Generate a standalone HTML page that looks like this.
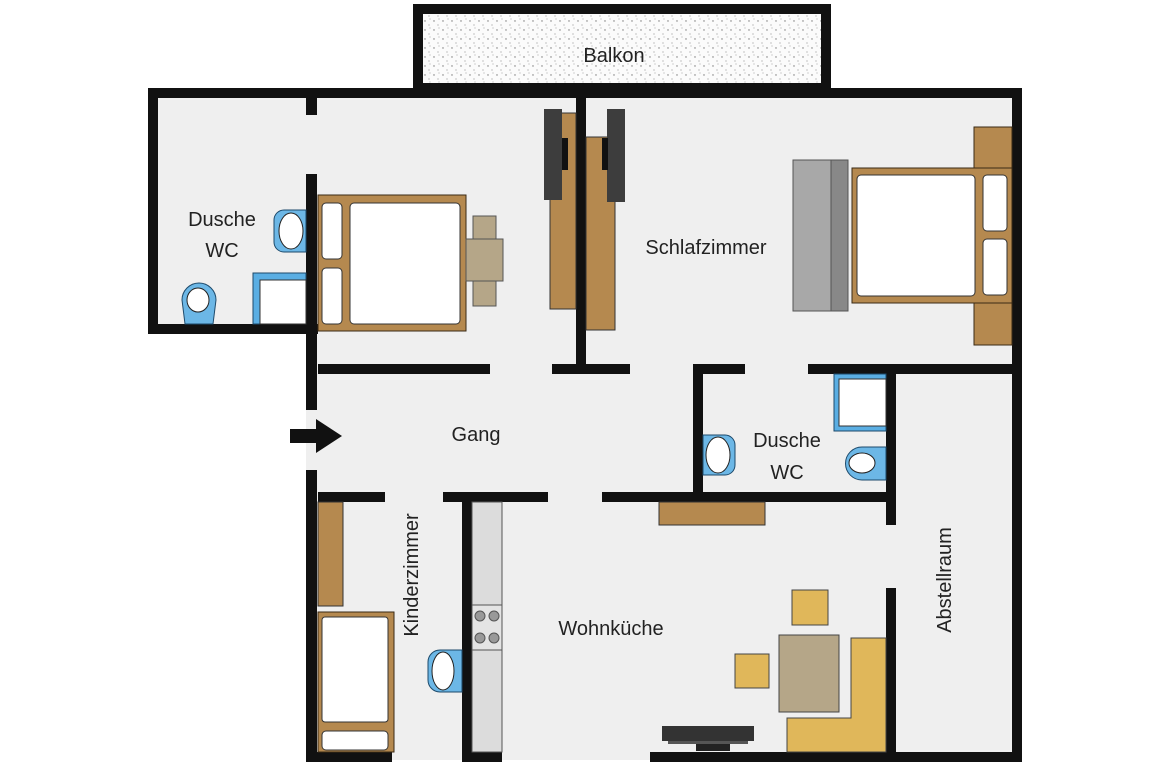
<!DOCTYPE html>
<html><head><meta charset="utf-8"><style>
html,body{margin:0;padding:0;background:#fff;}
svg{display:block;}
text{font-family:"Liberation Sans",sans-serif;font-size:20px;fill:#222;}
</style></head><body>
<svg width="1153" height="768" viewBox="0 0 1153 768" xmlns="http://www.w3.org/2000/svg">
<defs>
<pattern id="dots" width="9" height="9" patternUnits="userSpaceOnUse">
<rect width="9" height="9" fill="#fbfbfb"/>
<circle cx="2" cy="3" r="0.7" fill="#777"/><circle cx="6" cy="7" r="0.6" fill="#999"/><circle cx="7" cy="1" r="0.5" fill="#888"/>
</pattern>
</defs>
<!-- floors -->
<rect x="150" y="90" width="870" height="240" fill="#efefef"/>
<rect x="306" y="90" width="714" height="670" fill="#efefef"/>
<!-- balcony -->
<rect x="418" y="9" width="408" height="79" fill="url(#dots)" stroke="#111" stroke-width="10"/>
<text x="614" y="62" text-anchor="middle">Balkon</text>
<g fill="#111">
<!-- outer walls -->
<rect x="148" y="88" width="874" height="10"/>
<rect x="148" y="88" width="10" height="246"/>
<rect x="148" y="324" width="170" height="10"/>
<rect x="1012" y="88" width="10" height="674"/>
<rect x="306" y="98" width="11" height="17"/>
<rect x="306" y="174" width="11" height="236"/>
<rect x="306" y="470" width="11" height="292"/>
<rect x="306" y="752" width="86" height="10"/>
<rect x="462" y="752" width="40" height="10"/>
<rect x="650" y="752" width="372" height="10"/>
<!-- interior -->
<rect x="576" y="98" width="10" height="276"/>
<rect x="318" y="364" width="172" height="10"/>
<rect x="552" y="364" width="78" height="10"/>
<rect x="693" y="364" width="52" height="10"/>
<rect x="808" y="364" width="204" height="10"/>
<rect x="693" y="364" width="10" height="130"/>
<rect x="886" y="374" width="10" height="151"/>
<rect x="886" y="588" width="10" height="166"/>
<rect x="318" y="492" width="67" height="10"/>
<rect x="443" y="492" width="105" height="10"/>
<rect x="602" y="492" width="294" height="10"/>
<rect x="462" y="502" width="10" height="250"/>
<!-- arrow -->
<rect x="290" y="429" width="28" height="14"/>
<polygon points="316,419 342,436 316,453"/>
</g>
<!-- left bedroom bed -->
<rect x="318" y="195" width="148" height="136" fill="#b5894f" stroke="#3a2a15" stroke-width="1"/>
<rect x="322" y="203" width="20" height="56" rx="4" fill="#fff" stroke="#333"/>
<rect x="322" y="268" width="20" height="56" rx="4" fill="#fff" stroke="#333"/>
<rect x="350" y="203" width="110" height="121" rx="4" fill="#fff" stroke="#333"/>
<rect x="473" y="216" width="23" height="90" fill="#b5a688" stroke="#555"/>
<rect x="466" y="239" width="37" height="42" fill="#b5a688" stroke="#555"/>
<!-- wardrobes -->
<rect x="550" y="113" width="26" height="196" fill="#b5894f" stroke="#333"/>
<rect x="544" y="109" width="18" height="91" fill="#3d3d3d"/>
<rect x="562" y="138" width="6" height="32" fill="#111"/>
<rect x="586" y="137" width="29" height="193" fill="#b5894f" stroke="#333"/>
<rect x="607" y="109" width="18" height="93" fill="#3d3d3d"/>
<rect x="602" y="138" width="6" height="32" fill="#111"/>
<!-- left Dusche WC -->
<path d="M306 210 h-22 a10 10 0 0 0 -10 10 v22 a10 10 0 0 0 10 10 h22 z" fill="#6cb7e6" stroke="#1d4a6b"/>
<ellipse cx="291" cy="231" rx="12" ry="18" fill="#fff" stroke="#222"/>
<rect x="253" y="273" width="53" height="51" fill="#5aaee3" stroke="#1d4a6b"/>
<rect x="260" y="280" width="46" height="44" fill="#fff" stroke="#333"/>
<path d="M185 324 l-3 -24 a16 16 0 0 1 34 0 l-3 24 z" fill="#6cb7e6" stroke="#1d4a6b"/>
<ellipse cx="198" cy="300" rx="11" ry="12" fill="#fff" stroke="#222"/>
<!-- Schlafzimmer -->
<rect x="793" y="160" width="38" height="151" fill="#a8a8a8" stroke="#555"/>
<rect x="831" y="160" width="17" height="151" fill="#888" stroke="#555"/>
<rect x="974" y="127" width="38" height="218" fill="#b5894f" stroke="#3a2a15"/>
<rect x="852" y="168" width="160" height="135" fill="#b5894f" stroke="#3a2a15"/>
<rect x="857" y="175" width="118" height="121" rx="4" fill="#fff" stroke="#333"/>
<rect x="983" y="175" width="24" height="56" rx="4" fill="#fff" stroke="#333"/>
<rect x="983" y="239" width="24" height="56" rx="4" fill="#fff" stroke="#333"/>
<!-- right Dusche WC -->
<rect x="834" y="374" width="52" height="57" fill="#5aaee3" stroke="#1d4a6b"/>
<rect x="839" y="379" width="47" height="47" fill="#fff" stroke="#333"/>
<path d="M703 435 h22 a10 10 0 0 1 10 10 v20 a10 10 0 0 1 -10 10 h-22 z" fill="#6cb7e6" stroke="#1d4a6b"/>
<ellipse cx="718" cy="455" rx="12" ry="18" fill="#fff" stroke="#222"/>
<path d="M886 447 h-24 a16 16 0 0 0 0 33 h24 z" fill="#6cb7e6" stroke="#1d4a6b"/>
<ellipse cx="862" cy="463" rx="13" ry="10" fill="#fff" stroke="#222"/>
<rect x="659" y="502" width="106" height="23" fill="#b5894f" stroke="#333"/>
<!-- Kinderzimmer -->
<rect x="318" y="502" width="25" height="104" fill="#b5894f" stroke="#333"/>
<rect x="318" y="612" width="76" height="140" fill="#b5894f" stroke="#3a2a15"/>
<rect x="322" y="617" width="66" height="105" rx="3" fill="#fff" stroke="#333"/>
<rect x="322" y="731" width="66" height="19" rx="4" fill="#fff" stroke="#333"/>
<path d="M462 650 h-22 a12 12 0 0 0 -12 12 v18 a12 12 0 0 0 12 12 h22 z" fill="#6cb7e6" stroke="#1d4a6b"/>
<ellipse cx="443" cy="671" rx="11" ry="19" fill="#fff" stroke="#222"/>
<!-- kitchen counter -->
<rect x="472" y="502" width="30" height="250" fill="#dcdcdc" stroke="#555"/>
<rect x="472" y="605" width="30" height="45" fill="#e4e4e4" stroke="#555"/>
<g fill="#999" stroke="#555"><circle cx="480" cy="616" r="5"/><circle cx="494" cy="616" r="5"/><circle cx="480" cy="638" r="5"/><circle cx="494" cy="638" r="5"/></g>
<!-- dining -->
<rect x="792" y="590" width="36" height="35" fill="#e0b75a" stroke="#444"/>
<rect x="779" y="635" width="60" height="77" fill="#b5a688" stroke="#444"/>
<rect x="735" y="654" width="34" height="34" fill="#e0b75a" stroke="#444"/>
<path d="M851 638 h35 v114 h-99 v-34 h64 z" fill="#e0b75a" stroke="#444"/>
<rect x="662" y="726" width="92" height="15" fill="#333"/>
<rect x="668" y="741" width="80" height="3" fill="#555"/>
<rect x="696" y="744" width="34" height="7" fill="#222"/>
<!-- labels -->
<text x="222" y="226" text-anchor="middle">Dusche</text>
<text x="222" y="257" text-anchor="middle">WC</text>
<text x="706" y="254" text-anchor="middle">Schlafzimmer</text>
<text x="476" y="441" text-anchor="middle">Gang</text>
<text x="787" y="447" text-anchor="middle">Dusche</text>
<text x="787" y="479" text-anchor="middle">WC</text>
<text x="611" y="635" text-anchor="middle">Wohnküche</text>
<text transform="translate(418,575) rotate(-90)" text-anchor="middle">Kinderzimmer</text>
<text transform="translate(951,580) rotate(-90)" text-anchor="middle">Abstellraum</text>
</svg>
</body></html>
